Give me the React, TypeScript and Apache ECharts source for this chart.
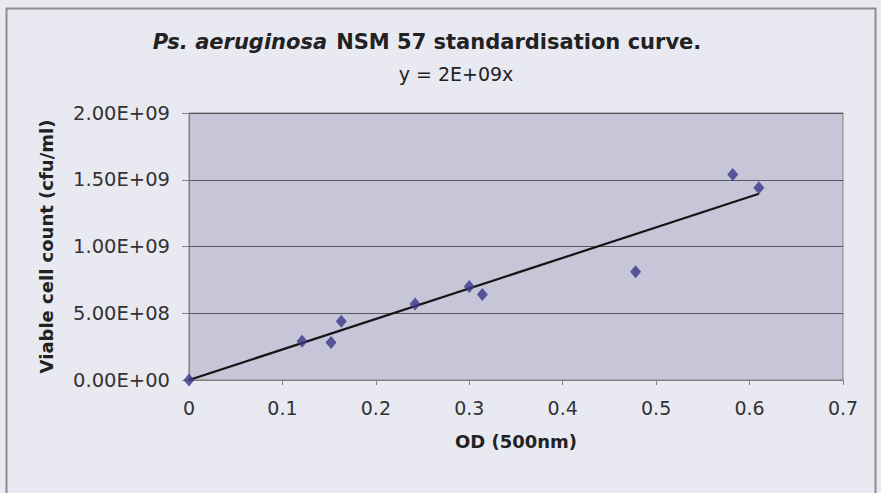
import React, { useEffect, useRef } from "react";
import * as echarts from "echarts";

const odValues = [0, 0.121, 0.152, 0.163, 0.242, 0.3, 0.314, 0.478, 0.582, 0.61];
const cellCounts = [0, 0.29e9, 0.28e9, 0.44e9, 0.57e9, 0.7e9, 0.64e9, 0.81e9, 1.54e9, 1.44e9];
const xTicks = [0, 0.1, 0.2, 0.3, 0.4, 0.5, 0.6, 0.7];
const yTicks = [0, 0.5e9, 1.0e9, 1.5e9, 2.0e9];
const titleItalic = "Ps. aeruginosa";
const titleRest = "NSM 57 standardisation curve.";
const equationText = "y = 2E+09x";
const xName = "OD (500nm)";
const yName = "Viable cell count (cfu/ml)";

const FONT = "DejaVu Sans";

function sci(v: number): string {
  if (v === 0) return "0.00E+00";
  const e = Math.floor(Math.log10(Math.abs(v)) + 1e-9);
  const m = v / Math.pow(10, e);
  const sign = e < 0 ? "-" : "+";
  return `${m.toFixed(2)}E${sign}${String(Math.abs(e)).padStart(2, "0")}`;
}

export default function App() {
  const ref = useRef<HTMLDivElement>(null);
  useEffect(() => {
    if (!ref.current) return;
    const chart = echarts.init(ref.current, undefined, { renderer: "svg" });
    const pts = odValues.map((x, i) => [x, cellCounts[i]]);
    // least-squares trendline through the origin
    let sxy = 0;
    let sxx = 0;
    odValues.forEach((x, i) => {
      sxy += x * cellCounts[i];
      sxx += x * x;
    });
    const slope = sxy / sxx;
    const xMaxData = Math.max(...odValues);
    const trend = [
      [0, 0],
      [xMaxData, slope * xMaxData],
    ];
    chart.setOption({
      animation: false,
      backgroundColor: "#E9E9F2",
      textStyle: { fontFamily: FONT },
      grid: {
        left: 189,
        right: 38,
        top: 113,
        bottom: 113,
        show: true,
        backgroundColor: "#C6C6D8",
        borderColor: "#808080",
        borderWidth: 1,
      },
      xAxis: {
        type: "value",
        min: xTicks[0],
        max: xTicks[xTicks.length - 1],
        interval: 0.1,
        name: xName,
        nameLocation: "middle",
        nameGap: 52,
        nameTextStyle: { fontFamily: FONT, fontSize: 18, fontWeight: "bold", color: "#222" },
        axisLine: { show: true, lineStyle: { color: "#808080", width: 1 } },
        axisTick: { show: true, length: 5, lineStyle: { color: "#808080" } },
        axisLabel: {
          fontFamily: FONT,
          fontSize: 19,
          color: "#333",
          margin: 18,
          formatter: (v: number) => String(Math.round(v * 10) / 10),
        },
        splitLine: { show: false },
      },
      yAxis: {
        type: "value",
        min: yTicks[0],
        max: yTicks[yTicks.length - 1],
        interval: yTicks[1] - yTicks[0],
        name: yName,
        nameLocation: "middle",
        nameGap: 134,
        nameTextStyle: { fontFamily: FONT, fontSize: 18, fontWeight: "bold", color: "#222" },
        axisLine: { show: true, lineStyle: { color: "#808080", width: 1 } },
        axisTick: { show: true, length: 7, lineStyle: { color: "#808080" } },
        axisLabel: {
          fontFamily: FONT,
          fontSize: 19.5,
          color: "#333",
          margin: 19,
          formatter: (v: number) => sci(v),
        },
        splitLine: { show: true, lineStyle: { color: "#555560", width: 1 } },
      },
      graphic: [
        {
          type: "rect",
          shape: { x: 6.5, y: 8.5, width: 869, height: 500 },
          style: { fill: "none", stroke: "#8c8c8c", lineWidth: 2 },
          silent: true,
        },
        {
          type: "text",
          x: 427,
          y: 42,
          style: {
            text: `{i|${titleItalic}}{s| }{b|${titleRest}}`,
            align: "center",
            verticalAlign: "middle",
            rich: {
              i: { fontFamily: FONT, fontSize: 21, fontWeight: "bold", fontStyle: "italic", fill: "#222" },
              s: { fontFamily: FONT, fontSize: 21, width: 9 },
              b: { fontFamily: FONT, fontSize: 21, fontWeight: "bold", fill: "#222" },
            },
          },
        },
        {
          type: "text",
          x: 456,
          y: 74,
          style: {
            text: equationText,
            align: "center",
            verticalAlign: "middle",
            fontFamily: FONT,
            fontSize: 19,
            fill: "#222",
          },
        },
      ],
      series: [
        {
          type: "line",
          data: trend,
          showSymbol: false,
          symbol: "none",
          lineStyle: { color: "#151515", width: 2.2 },
          z: 2,
        },
        {
          type: "scatter",
          data: pts,
          symbol: "diamond",
          symbolSize: [11, 13],
          itemStyle: { color: "#3B3689" },
          z: 3,
        },
      ],
    });
    return () => chart.dispose();
  }, []);
  return (
    <div
      ref={ref}
      style={{ position: "fixed", left: 0, top: 0, width: 881, height: 493 }}
    />
  );
}
